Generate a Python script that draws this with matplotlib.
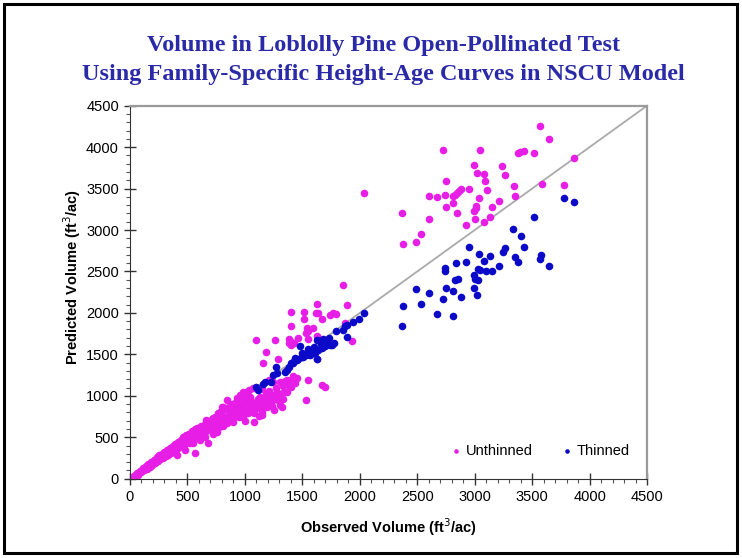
import numpy as np
import matplotlib
matplotlib.use("Agg")
import matplotlib.pyplot as plt
from matplotlib.patches import Rectangle

plt.rcParams["font.family"] = ["Liberation Sans", "DejaVu Sans"]

# observed vs predicted volume (ft3/ac)
unthinned = [
    # upper cluster
    (3570, 4255), (3650, 4100), (2720, 3970), (3050, 3970), (3375, 3935), (3395, 3940),
    (3430, 3955), (3515, 3935), (3865, 3865), (2990, 3785), (3240, 3770), (3020, 3690),
    (3085, 3680), (3265, 3660), (2750, 3590), (3090, 3590), (3340, 3530), (3585, 3550),
    (3780, 3540), (2885, 3500), (2860, 3475), (2845, 3450), (2830, 3420), (2810, 3410),
    (2950, 3490), (3110, 3480), (2600, 3415), (2670, 3400), (2740, 3420), (3040, 3390),
    (3350, 3415), (2810, 3330), (3210, 3355), (2750, 3280), (3015, 3290), (3010, 3270),
    (2990, 3230), (3150, 3280), (2370, 3210), (2845, 3210), (2605, 3130), (3000, 3135),
    (3135, 3160), (3080, 3095), (2925, 3055), (2535, 2950), (2490, 2850), (2380, 2830),
    (2040, 3450), (1850, 2335),
    # middle
    (1885, 2095), (1930, 1660), (1625, 2105), (1405, 2015), (1515, 2015), (1620, 2005),
    (1640, 1995), (1740, 1975), (1770, 1995), (1795, 1985), (1675, 1930), (1515, 1925),
    (1875, 1875), (1405, 1840), (1540, 1815), (1550, 1785), (1530, 1760), (1595, 1815),
    (1095, 1675), (1260, 1675), (1385, 1680), (1405, 1655), (1380, 1635), (1400, 1615),
    (1425, 1635), (1465, 1700), (1545, 1680), (1625, 1720), (1185, 1530), (1290, 1450),
    (1160, 1390), (1595, 1515), (1625, 1450), (1210, 1190), (1245, 1170), (1305, 1170),
    (1350, 1180), (1405, 1190), (1435, 1150), (1405, 1110), (1545, 1190), (1675, 1130),
    (1695, 1110), (1530, 950), (1365, 1190), (1450, 1210), (1390, 1110), (1247, 1010),
    (1290, 950), (1305, 890),
    # lower band below the line
    (1220, 990), (1320, 870), (1250, 830), (1145, 810), (1075, 790), (985, 750),
    (900, 730), (1175, 950), (1100, 910), (1015, 890), (930, 930), (810, 870),
    (785, 810), (725, 730), (665, 710), (810, 670), (945, 830), (870, 850),
    (840, 950), (1075, 690), (1145, 770), (1100, 850), (1000, 810), (1275, 1010),
    (1335, 1030), (1365, 1050), (1150, 910), (1190, 950), (1000, 970), (1045, 990),
    (405, 285), (480, 345), (565, 305), (550, 425), (610, 465), (655, 505),
    (680, 425), (725, 545), (770, 610), (810, 630), (840, 670), (870, 710),
    (900, 690), (945, 750), (970, 770), (1030, 790), (1100, 850), (1190, 870),
    (1230, 910), (760, 560), (720, 600), (640, 540), (590, 490), (520, 430),
    (1000, 870), (1050, 820), (1120, 880), (1160, 860), (1200, 920), (1240, 880),
    (1260, 960), (1300, 990), (1330, 960), (1280, 1050), (1180, 1020), (1130, 980),
    (1060, 930), (960, 860), (900, 800), (850, 760), (780, 700), (740, 680),
    (700, 640), (640, 600), (600, 570), (880, 780), (940, 880), (1020, 950),
    (1150, 1080), (1210, 1060), (1270, 1100), (1330, 1120), (1380, 1150), (1230, 960),
    (1110, 960), (1060, 880), (1170, 900), (990, 910), (920, 860), (860, 820),
    (820, 740), (760, 720), (690, 680), (1000, 700), (1120, 760), (1420, 1240),
    # along the line
    (15, 20), (30, 15), (45, 40), (60, 70), (70, 45), (85, 95), (95, 75), (110, 130),
    (120, 100), (135, 150), (145, 120), (160, 175), (170, 140), (185, 200), (195, 165),
    (210, 230), (220, 190), (235, 260), (245, 215), (255, 280), (265, 235), (280, 300),
    (290, 250), (300, 320), (310, 275), (325, 345), (335, 290), (345, 370), (355, 315),
    (370, 390), (380, 330), (395, 420), (405, 355), (420, 440), (430, 380), (445, 470),
    (455, 400), (465, 505), (475, 420), (490, 530), (500, 450), (515, 545), (525, 470),
    (540, 570), (550, 490), (565, 600), (575, 510), (590, 610), (600, 530), (620, 630),
    (630, 560), (650, 660), (660, 580), (680, 690), (690, 600), (710, 720), (720, 630),
    (740, 750), (750, 650), (770, 790), (780, 670), (800, 820), (810, 690), (830, 850),
    (840, 710), (860, 870), (870, 740), (890, 900), (900, 760), (920, 930), (930, 780),
    (950, 970), (960, 800), (980, 1000), (990, 820), (1010, 1040), (1020, 840),
    (1040, 1070), (1050, 870), (1070, 1090), (1080, 900), (930, 970), (960, 1010),
    (985, 1050), (800, 870), (175, 165), (260, 265), (320, 305), (375, 365), (435, 425),
    (510, 545), (580, 610), (695, 690), (755, 750),
]

thinned = [
    # upper cluster
    (3780, 3390), (3865, 3340), (3515, 3160), (3335, 3010), (3405, 2930), (2950, 2795),
    (3425, 2795), (3265, 2780), (3245, 2735), (3040, 2710), (3135, 2685), (3575, 2700),
    (3565, 2655), (3650, 2560), (3350, 2675), (3375, 2620), (2840, 2605), (2925, 2620),
    (3085, 2625), (3215, 2560), (2745, 2540), (2740, 2505), (3025, 2530), (3045, 2520),
    (3100, 2510), (3150, 2500), (2990, 2455), (3005, 2410), (3025, 2395), (2830, 2395),
    (2855, 2415), (2490, 2285), (2600, 2240), (2750, 2295), (2810, 2265), (2990, 2295),
    (2885, 2190), (3020, 2215), (2720, 2170), (2380, 2085), (2535, 2110), (2670, 1985),
    (2810, 1965), (2365, 1840),
    # along the line
    (2035, 2005), (1990, 1930), (1945, 1895), (1885, 1855), (1850, 1790), (1870, 1840),
    (1885, 1715), (1795, 1780), (1775, 1640), (1755, 1615), (1695, 1600), (1670, 1575),
    (1640, 1555), (1610, 1520), (1565, 1490), (1530, 1490), (1495, 1470), (1465, 1440),
    (1425, 1425), (1405, 1390), (1380, 1350), (1365, 1310), (1350, 1290), (1625, 1675),
    (1680, 1680), (1480, 1600), (1275, 1350), (1280, 1270), (1225, 1170), (1160, 1140),
    (1095, 1110), (1110, 1070), (1625, 1440), (1550, 1560), (1580, 1540), (1500, 1520),
    (1440, 1460), (1600, 1590), (1700, 1640), (1730, 1700), (1660, 1620), (1175, 1170),
    (1245, 1250), (1420, 1390), (1450, 1430), (1510, 1470), (1565, 1530), (1740, 1615),
]

MAGENTA = "#E61EE6"
BLUE = "#0A0AC8"

fig = plt.figure(figsize=(7.42, 5.58), dpi=100)
ax = fig.add_axes([0.1752, 0.1421, 0.6968, 0.6685])

ux, uy = np.array(unthinned).T
tx, ty = np.array(thinned).T
ax.plot([0, 4500], [0, 4500], color="#AAAAAA", lw=1.3, zorder=1)
ax.scatter(ux, uy, s=30, color=MAGENTA, lw=0, zorder=2, label="Unthinned")
ax.scatter(tx, ty, s=30, color=BLUE, lw=0, zorder=3, label="Thinned")

ax.set_xlim(0, 4500)
ax.set_ylim(0, 4500)
ax.set_xticks(np.arange(0, 4501, 500))
ax.set_yticks(np.arange(0, 4501, 500))
ax.set_xticks(np.arange(0, 4501, 100), minor=True)
ax.set_yticks(np.arange(0, 4501, 100), minor=True)
ax.tick_params(which="major", direction="inout", length=8, width=1, labelsize=10.5,
               color="#333333", pad=4)
ax.tick_params(which="minor", direction="out", length=3, width=0.8, color="#555555")
for s in ("left", "bottom"):
    ax.spines[s].set_color("#333333")
for s in ("top", "right"):
    ax.spines[s].set_color("#9A9A9A")
    ax.spines[s].set_linewidth(1.6)

ax.set_xlabel("Observed Volume (ft$^3$/ac)", fontsize=10.5, fontweight="bold", labelpad=9)
fig.text(0.097, 0.504, "Predicted Volume (ft$^3$/ac)", rotation=90, fontsize=10.5,
         fontweight="bold", ha="center", va="center")

ax.legend(loc="center", bbox_to_anchor=(0.793, 0.074), ncol=2, frameon=False,
          fontsize=10.5, markerscale=0.6, handlelength=0.8, handletextpad=0.3,
          columnspacing=1.9)

title_kw = dict(ha="center", va="center", fontsize=17.5, fontweight="bold",
                color="#2A2AA8", family="Liberation Serif")
fig.text(0.517, 0.919, "Volume in Loblolly Pine Open-Pollinated Test", **title_kw)
fig.text(0.517, 0.866, "Using Family-Specific Height-Age Curves in NSCU Model", **title_kw)

fig.patches.append(Rectangle((0.0054, 0.009), 0.9876, 0.984, transform=fig.transFigure,
                             fill=False, lw=2.2, edgecolor="black"))

fig.savefig("out.png", dpi=100)
